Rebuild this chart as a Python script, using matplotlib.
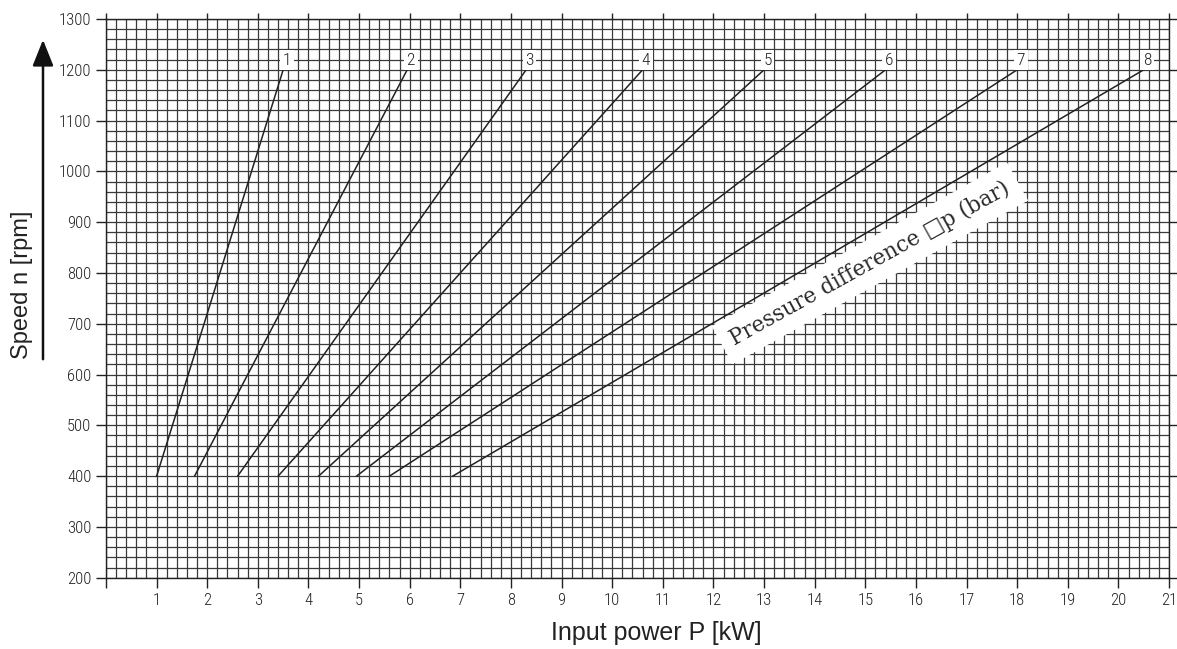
import numpy as np
import matplotlib
matplotlib.use("Agg")
import matplotlib.pyplot as plt
from matplotlib import font_manager

# Pump input power vs speed for several pressure differences
curve_ids = [1, 2, 3, 4, 5, 6, 7, 8]
power_at_400 = [1.0, 1.75, 2.6, 3.4, 4.2, 4.95, 5.6, 6.85]
power_at_1200 = [3.5, 5.95, 8.3, 10.6, 13.0, 15.4, 18.0, 20.5]
speed_low = 400
speed_high = 1200

x_ticks = list(range(1, 22))
y_ticks = list(range(200, 1301, 100))

# narrow face for the numbers, if one is around
names = {f.name for f in font_manager.fontManager.ttflist}
narrow = [n for n in ["Liberation Sans Narrow", "Roboto Condensed",
                      "Open Sans Condensed", "DejaVu Sans"] if n in names]
tick_font = narrow + ["DejaVu Sans"]
label_font = ["Liberation Sans", "DejaVu Sans"]

fig = plt.figure(figsize=(11.77, 6.49), dpi=100)
ax = fig.add_axes([106 / 1177, 71.3 / 649, 1063 / 1177, 558.7 / 649])
ax.set_xlim(0, 21)
ax.set_ylim(200, 1300)

# fine grid paper: 0.2 kW by 20 rpm
ax.set_xticks(np.arange(0, 21.01, 0.2), minor=True)
ax.set_yticks(np.arange(200, 1300.1, 20), minor=True)
ax.grid(which="minor", color="#3a3a3a", lw=0.9)
ax.grid(which="major", color="#3a3a3a", lw=0.9)
ax.tick_params(which="minor", length=0)

ax.set_xticks([0] + x_ticks)
ax.set_xticklabels([""] + [str(t) for t in x_ticks])
ax.set_yticks(y_ticks)
ax.tick_params(axis="x", which="major", direction="out", length=7, width=1,
               pad=4, labelsize=12, top=True, color="#222222")
ax.tick_params(axis="y", which="major", direction="out", length=7.5, width=1,
               pad=3, labelsize=12, right=True, color="#222222")
for lab in ax.get_xticklabels() + ax.get_yticklabels():
    lab.set_family(tick_font)
    lab.set_stretch("condensed")
    lab.set_weight("light")
    lab.set_color("#222222")
for side in ["top", "right", "left", "bottom"]:
    ax.spines[side].set_color("#222222")
    ax.spines[side].set_linewidth(1)

# top ticks a bit shorter than the bottom ones
for t in ax.xaxis.get_major_ticks():
    t.tick2line.set_markersize(4.5)

for cid, p0, p1 in zip(curve_ids, power_at_400, power_at_1200):
    ax.plot([p0, p1], [speed_low, speed_high], color="#222222", lw=1.1, zorder=3)
    ax.text(p1 + 0.07, speed_high + 4, str(cid), ha="center", va="bottom",
            fontsize=12.5, family=tick_font, stretch="condensed",
            weight="light", color="#222222", zorder=4,
            bbox=dict(boxstyle="square,pad=0.15", fc="white", ec="none"))

ax.text(15.09, 819, "Pressure difference \u25a1p (bar)", rotation=29,
        rotation_mode="anchor", ha="center", va="center", fontsize=15.5,
        family=["DejaVu Serif", "DejaVu Sans"], color="#2a2a2a", zorder=5,
        bbox=dict(boxstyle="square,pad=0.5", fc="white", ec="none"))

fig.text(656 / 1177, 1 - 633 / 649, "Input power P [kW]", ha="center",
         va="center", fontsize=18, family=label_font, color="#222222")
fig.text(22 / 1177, 1 - 285 / 649, "Speed n [rpm]", ha="center", va="center",
         rotation=90, fontsize=17, family=label_font, color="#222222")

# arrow beside the speed label
fig.add_artist(matplotlib.patches.FancyArrowPatch(
    (43 / 1177, 1 - 362 / 649), (43 / 1177, 1 - 37 / 649),
    transform=fig.transFigure, arrowstyle="-|>,head_length=10,head_width=4",
    mutation_scale=1.6, lw=1.8, color="#111111"))

fig.savefig("out.png", dpi=100)
